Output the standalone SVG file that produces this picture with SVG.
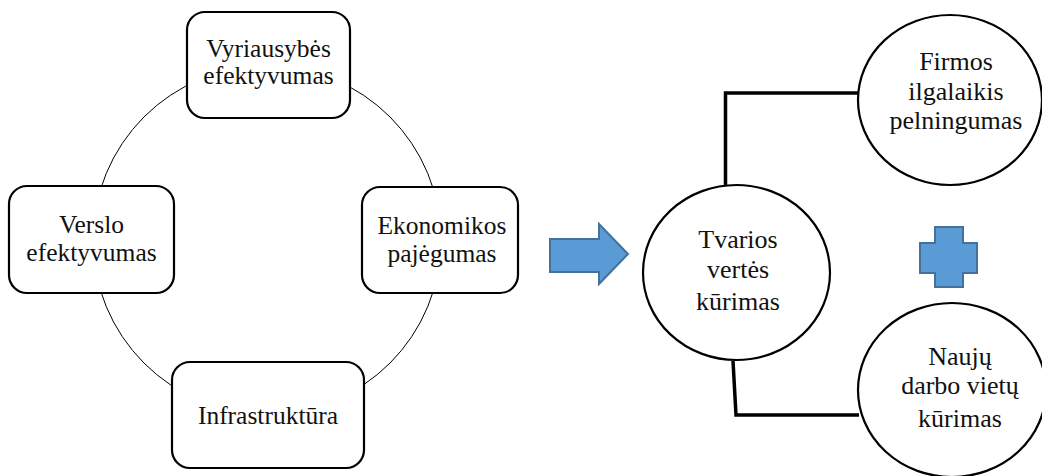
<svg xmlns="http://www.w3.org/2000/svg" width="1042" height="476" viewBox="0 0 1042 476">
  <style>
    text { font-family: 'Liberation Serif', Tinos, 'Times New Roman', Times, 'DejaVu Serif', serif; font-size: 25.5px; fill: #111; text-anchor: middle; }
    .big { font-size: 26px; }
    .box { fill: #fff; stroke: #000; stroke-width: 2.2; }
    .oval { fill: #fff; stroke: #000; stroke-width: 2.2; }
    .ring { fill: none; stroke: #000; stroke-width: 1; }
    .link { fill: none; stroke: #000; stroke-width: 3.5; stroke-linejoin: miter; }
    .shape { fill: #5B9BD5; stroke: #41719C; stroke-width: 2; }
  </style>
  <rect width="1042" height="476" fill="#fff"/>

  <!-- cycle linking the four factors, and the two brackets on the right -->
  <g id="connectors">
    <circle class="ring" cx="267" cy="240" r="174"/>
    <polyline class="link" points="725.5,186 725.5,93 859,93"/>
    <polyline class="link" points="733,361 736,415 859,415"/>
  </g>

  <g id="vyriausybes">
    <rect class="box" x="187" y="12" width="163" height="106" rx="18"/>
    <text x="268.5" y="57">Vyriausybės</text>
    <text x="268.5" y="84">efektyvumas</text>
  </g>

  <g id="verslo">
    <rect class="box" x="9" y="186" width="165" height="107" rx="18"/>
    <text x="91.5" y="233">Verslo</text>
    <text x="91.5" y="261">efektyvumas</text>
  </g>

  <g id="ekonomikos">
    <rect class="box" x="362" y="187" width="156" height="106" rx="18"/>
    <text x="442" y="234">Ekonomikos</text>
    <text x="442" y="262">pajėgumas</text>
  </g>

  <g id="infrastruktura">
    <rect class="box" x="172" y="362" width="192" height="106" rx="18"/>
    <text x="268" y="424">Infrastruktūra</text>
  </g>

  <!-- block arrow -->
  <g id="arrow">
    <polygon class="shape" points="550,239 599,239 599,224 628,254 599,284 599,272 550,272"/>
  </g>

  <g id="tvarios">
    <ellipse class="oval" cx="736.5" cy="272.5" rx="93.5" ry="87.5"/>
    <text class="big" x="738" y="248">Tvarios</text>
    <text class="big" x="738" y="278">vertės</text>
    <text class="big" x="738" y="310">kūrimas</text>
  </g>

  <g id="firmos">
    <ellipse class="oval" cx="950" cy="100" rx="92" ry="85"/>
    <text class="big" x="956" y="70">Firmos</text>
    <text class="big" x="956" y="100">ilgalaikis</text>
    <text class="big" x="956" y="129">pelningumas</text>
  </g>

  <g id="plus">
    <polygon class="shape" points="935,227 963,227 963,243 977,243 977,273 963,273 963,287 935,287 935,273 920,273 920,243 935,243"/>
  </g>

  <g id="naujos">
    <ellipse class="oval" cx="952" cy="390" rx="94" ry="87"/>
    <text class="big" x="960" y="365">Naujų</text>
    <text class="big" x="960" y="394">darbo vietų</text>
    <text class="big" x="960" y="427">kūrimas</text>
  </g>
</svg>
